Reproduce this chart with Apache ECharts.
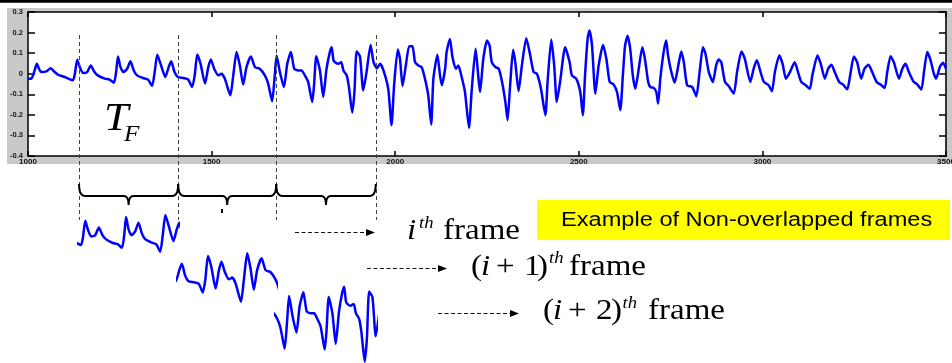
<!DOCTYPE html>
<html>
<head>
<meta charset="utf-8">
<script src="https://cdn.jsdelivr.net/npm/echarts@6/dist/echarts.min.js"></script>
<style>
  html, body { margin: 0; padding: 0; background: #fff; }
  #chart { width: 952px; height: 363px; }
</style>
</head>
<body>
<div id="chart"></div>
<script>
// Speech waveform: sample index and amplitude
const sampleIdx = [
  1000,1009,1018,1024,1030,1036,1050,1062,1071,1082,1100,1122,1127,1134,1141,1150,1161,1171,1180,1190,
  1209,1222,1234,1240,1245,1252,1260,1270,1279,1288,1297,1313,1327,1338,1345,1352,1361,1374,1383,1390,1399,1408,
  1423,1436,1447,1454,1461,1470,1482,1491,1498,1507,1518,1527,1536,1551,1559,1568,1577,1586,1595,1607,
  1618,1631,1645,1654,1665,1672,1677,1686,1697,1706,1716,1725,1736,1745,1754,1763,1774,1779,1785,1795,1804,1813,1822,1827,
  1832,1838,1845,1853,1859,1868,1874,1883,1889,1895,1904,1913,1922,1933,1941,1950,1959,1968,1981,1990,
  1997,2007,2013,2020,2029,2038,2047,2054,2063,2072,2081,2090,2098,2104,2115,2122,2127,2136,2140,2149,
  2156,2165,2172,2181,2190,2201,2208,2219,2226,2231,2240,
  2250,2257,2263,2273,2282,2291,2300,2306,2313,2321,2327,2336,2345,2357,2366,2377,2386,2397,2409,2415,
  2425,2433,2440,2449,2463,2475,2481,2493,2504,2511,2517,2524,2529,2536,2545,2554,2566,2575,2584,2595,
  2604,2613,2620,2626,2633,2640,2647,2654,
  2662,2673,2680,2689,2695,2704,2711,2716,2722,2731,2738,2743,2752,2761,2771,2779,2786,2795,2809,2820,
  2829,2838,2845,2854,2865,2874,2881,2888,2898,2908,2922,2931,2943,2952,2967,2976,2985,2995,3004,3017,
  3026,3034,3046,3055,3064,
  3075,3088,3097,3106,3118,3129,3136,3150,3159,3170,3179,3188,3197,3209,3220,3231,3239,3249,3258,3269,
  3278,3289,3299,3311,3322,3333,3340,3349,3358,3372,3381,3390,3399,3411,3422,3433,3440,3449,3458,3467,
  3473,3483,3492,3500
];
const amplitude = [
  -0.024,-0.024,0.016,0.048,0.024,0.008,0.011,0.027,0.011,-0.005,-0.016,-0.032,-0.008,0.068,0.032,0.003,0.008,0.040,0.011,-0.008,
  -0.024,-0.029,-0.044,0.008,0.084,0.032,0.008,0.024,0.060,0.016,-0.008,-0.021,-0.029,-0.060,0.008,0.092,0.048,-0.016,0.032,0.060,0.008,-0.016,
  -0.021,-0.027,-0.065,-0.008,0.094,0.048,-0.048,0.032,0.069,0.024,-0.008,0.000,-0.024,-0.105,-0.008,0.105,0.040,-0.053,0.032,0.084,
  0.032,0.024,-0.008,-0.048,-0.134,-0.008,0.089,0.008,-0.065,0.048,0.105,0.024,0.016,0.016,-0.008,-0.040,-0.137,-0.056,0.085,0.016,-0.113,0.024,0.105,0.129,
  0.065,0.053,0.048,0.056,0.016,-0.008,-0.065,-0.189,-0.089,0.108,0.085,-0.081,0.008,0.140,0.056,0.027,0.048,0.016,-0.073,-0.250,
  -0.056,0.118,0.073,-0.060,0.040,0.134,0.134,0.056,0.040,0.032,-0.024,-0.105,-0.247,-0.024,0.092,-0.008,-0.056,0.024,0.105,0.169,
  0.081,0.024,0.040,-0.016,-0.089,-0.263,-0.089,0.121,-0.008,-0.089,0.073,
  0.161,0.137,0.056,0.032,0.024,-0.040,-0.137,-0.226,-0.056,0.116,0.056,-0.085,0.040,0.173,0.105,0.008,0.000,-0.073,-0.202,-0.040,
  0.166,0.040,-0.137,-0.040,0.129,0.056,-0.008,-0.024,-0.089,-0.202,-0.008,0.169,0.210,0.137,-0.097,0.040,0.140,0.073,-0.040,-0.053,
  -0.089,-0.177,-0.008,0.137,0.185,0.121,-0.008,-0.073,
  0.008,0.129,0.073,-0.040,-0.065,-0.069,-0.089,-0.145,-0.024,0.105,0.161,0.089,0.008,-0.044,0.040,0.108,0.056,-0.056,-0.065,-0.110,
  0.008,0.129,0.097,0.008,-0.040,0.040,0.069,0.056,-0.040,-0.060,-0.097,0.008,0.108,0.073,-0.040,0.024,0.065,0.008,-0.040,-0.056,
  -0.085,0.008,0.089,0.048,-0.024,
  0.008,0.056,0.008,-0.040,-0.056,-0.073,-0.008,0.089,0.048,-0.024,0.024,0.044,0.008,-0.040,-0.053,-0.076,-0.008,0.084,0.056,-0.024,
  0.024,0.044,0.008,-0.040,-0.053,-0.069,0.008,0.085,0.056,-0.024,0.024,0.048,0.008,-0.037,-0.053,-0.077,0.008,0.105,0.065,0.000,
  -0.024,0.032,0.053,0.024
];

// Frame boundaries on the sample axis (dashed markers)
const frameBounds = [1139, 1409, 1676, 1947];
// First sample shown in each extracted frame below the waveform
const frameStarts = [1117, 1380, 1642];
// Amplitude range of each extracted frame panel
const frameYMin = [-0.10, -0.15, -0.20];
const frameYMax = [0.12, 0.15, 0.15];

// Axis ranges
const xRange = [1000, 3500, 500];
const yRange = [-0.4, 0.3, 0.1];

const waveData = sampleIdx.map((s, i) => [s, amplitude[i]]);

const chart = echarts.init(document.getElementById('chart'), null, { renderer: 'canvas' });

const BLUE = '#0000ff';
const LINE_W = 2.5;
const SMOOTH = 0.2;
const axisLabelFont = { fontSize: 8, fontWeight: 'bold', color: '#111', fontFamily: 'Liberation Sans' };

function mainAxes() {
  const xBase = {
    gridIndex: 0, type: 'value', min: xRange[0], max: xRange[1], interval: xRange[2],
    splitLine: { show: false },
    axisLine: { show: true, onZero: false, lineStyle: { color: '#000', width: 1.5 } },
    axisTick: { show: true, inside: true, length: 5, lineStyle: { color: '#000', width: 1.5 } }
  };
  const yBase = {
    gridIndex: 0, type: 'value', min: yRange[0], max: yRange[1], interval: yRange[2],
    splitLine: { show: false },
    axisLine: { show: true, onZero: false, lineStyle: { color: '#000', width: 1.5 } },
    axisTick: { show: true, inside: true, length: 7, lineStyle: { color: '#000', width: 1.5 } }
  };
  return {
    xAxis: [
      Object.assign({}, xBase, {
        position: 'bottom',
        axisLabel: Object.assign({ margin: 2, formatter: v => String(v) }, axisLabelFont)
      }),
      Object.assign({}, xBase, { position: 'top', axisLabel: { show: false } })
    ],
    yAxis: [
      Object.assign({}, yBase, {
        position: 'left',
        axisLabel: Object.assign({ margin: 5, formatter: v => String(+v.toFixed(1)) }, axisLabelFont, { fontSize: 7.5 })
      }),
      Object.assign({}, yBase, {
        position: 'right', axisLabel: { show: false },
        axisLine: { show: true, onZero: false, lineStyle: { color: '#333', width: 2 } }
      })
    ]
  };
}

const axes = mainAxes();
const baseOption = {
  animation: false,
  backgroundColor: '#fff',
  grid: [{ left: 28, top: 12, width: 918, height: 144, show: true, backgroundColor: '#fff',
    borderWidth: 0, containLabel: false, outerBoundsMode: 'none' }],
  xAxis: axes.xAxis,
  yAxis: axes.yAxis,
  series: [{
    type: 'line', xAxisIndex: 0, yAxisIndex: 0, data: waveData,
    showSymbol: false, clip: true, z: 3, smooth: SMOOTH,
    lineStyle: { color: BLUE, width: LINE_W }
  }]
};
chart.setOption(baseOption);

// Pixel position of a sample index on the main axis
const px = v => chart.convertToPixel({ xAxisIndex: 0 }, v);

// Extracted frame panels, one grid each
const framePanelTop = [208.3, 243.0, 281.7];
const framePanelHeight = [53.0, 69.0, 82.6];
const grids = [baseOption.grid[0]];
const xAxes = axes.xAxis.slice();
const yAxes = axes.yAxis.slice();
const series = baseOption.series.slice();
for (let k = 0; k < 3; k++) {
  const left = px(frameBounds[k]);
  const right = px(frameBounds[k + 1]);
  grids.push({ left: left, top: framePanelTop[k], width: right - left, height: framePanelHeight[k],
    show: false, outerBoundsMode: 'none' });
  const gi = grids.length - 1;
  xAxes.push({ gridIndex: gi, type: 'value', show: false, min: frameStarts[k],
    max: frameStarts[k] + (frameBounds[k + 1] - frameBounds[k]) });
  yAxes.push({ gridIndex: gi, type: 'value', show: false, min: frameYMin[k], max: frameYMax[k] });
  series.push({
    type: 'line', xAxisIndex: xAxes.length - 1, yAxisIndex: yAxes.length - 1, data: waveData,
    showSymbol: false, clip: true, z: 3, smooth: SMOOTH, lineStyle: { color: BLUE, width: LINE_W }
  });
}

// Annotation helpers
function quad(p0, p1, p2, n) {
  const pts = [];
  for (let i = 0; i <= n; i++) {
    const t = i / n, u = 1 - t;
    pts.push([u * u * p0[0] + 2 * u * t * p1[0] + t * t * p2[0], u * u * p0[1] + 2 * u * t * p1[1] + t * t * p2[1]]);
  }
  return pts;
}
function bracePoints(a, b) {
  const m = (a + b) / 2, y0 = 184, y1 = 196, y2 = 205, r = 6, rm = 5;
  return [].concat(
    quad([a, y0], [a, y1], [a + r, y1], 8),
    quad([m - rm, y1], [m, y1], [m, y2], 6),
    quad([m, y2], [m, y1], [m + rm, y1], 6),
    quad([b - r, y1], [b, y1], [b, y0], 8)
  );
}
function txt(s, x, base, size, opt) {
  opt = opt || {};
  const family = opt.family || '"Liberation Serif", "Times New Roman", serif';
  return {
    type: 'text', x: x, y: base - 0.34 * size, scaleX: opt.sx || 1, z: 20,
    style: {
      text: s, x: 0, y: 0,
      font: (opt.italic ? 'italic ' : '') + size + 'px ' + family,
      fill: '#000', align: 'left', verticalAlign: 'middle',
      textAlign: 'left', textVerticalAlign: 'middle'
    }
  };
}
function arrow(x1, tip, y) {
  return [
    { type: 'line', z: 20, shape: { x1: x1, y1: y, x2: tip - 8, y2: y },
      style: { stroke: '#111', lineWidth: 1, lineDash: [4, 2.5] } },
    { type: 'polygon', z: 20, shape: { points: [[tip - 9, y - 3.5], [tip, y], [tip - 9, y + 3.5]] },
      style: { fill: '#000' } }
  ];
}

const graphics = [
  // frame of the figure
  { type: 'rect', z: -10, shape: { x: 0, y: 0, width: 952, height: 2.7 }, style: { fill: '#000' } },
  { type: 'rect', z: -10, shape: { x: 7, y: 8, width: 945, height: 156 }, style: { fill: '#c9c9c9' } }
];
frameBounds.forEach(b => {
  const x = Math.round(px(b)) + 0.5;
  graphics.push({ type: 'line', z: 10, shape: { x1: x, y1: 35, x2: x, y2: 220 },
    style: { stroke: '#444', lineWidth: 1, lineDash: [4, 3] } });
});
for (let k = 0; k < 3; k++) {
  graphics.push({ type: 'polyline', z: 15, shape: { points: bracePoints(px(frameBounds[k]), px(frameBounds[k + 1])) },
    style: { stroke: '#000', lineWidth: 2, fill: null } });
}
graphics.push({ type: 'rect', z: 15, shape: { x: 221, y: 209, width: 2, height: 4 }, style: { fill: '#000' } });

// frame-length symbol
graphics.push(txt('T', 104, 133, 40, { italic: true, sx: 1.1 }));
graphics.push(txt('F', 124, 143, 23, { italic: true, sx: 1.1 }));

// arrows
graphics.push(...arrow(295, 375, 232.5));
graphics.push(...arrow(367, 447, 268.5));
graphics.push(...arrow(438, 519, 313.5));

// frame captions
graphics.push(txt('i', 407, 241.7, 30, { italic: true, sx: 1.1 }));
graphics.push(txt('th', 419, 229, 17, { italic: true, sx: 1.1 }));
graphics.push(txt('frame', 443, 241.7, 30, { sx: 1.1 }));

graphics.push(txt('(', 471, 277.3, 30, { sx: 1.1 }));
graphics.push(txt('i', 481, 277.3, 30, { italic: true, sx: 1.1 }));
graphics.push(txt('+', 496, 277.3, 30, { sx: 1.1 }));
graphics.push(txt('1', 524, 277.3, 30, { sx: 1.1 }));
graphics.push(txt(')', 537, 277.3, 30, { sx: 1.1 }));
graphics.push(txt('th', 549, 264.6, 17, { italic: true, sx: 1.1 }));
graphics.push(txt('frame', 569, 277.3, 30, { sx: 1.1 }));

graphics.push(txt('(', 543, 321.7, 30, { sx: 1.1 }));
graphics.push(txt('i', 553, 321.7, 30, { italic: true, sx: 1.1 }));
graphics.push(txt('+', 568, 321.7, 30, { sx: 1.1 }));
graphics.push(txt('2', 596, 321.7, 30, { sx: 1.1 }));
graphics.push(txt(')', 611, 321.7, 30, { sx: 1.1 }));
graphics.push(txt('th', 622.5, 309, 17, { italic: true, sx: 1.1 }));
graphics.push(txt('frame', 648, 321.7, 30, { sx: 1.1 }));

// highlighted note
graphics.push({ type: 'rect', z: 18, shape: { x: 537, y: 200, width: 413, height: 40 }, style: { fill: '#ffff00' } });
graphics.push(txt('Example of Non-overlapped frames', 561, 227.7, 20,
  { family: '"Liberation Sans", Arial, sans-serif', sx: 1.18 }));

chart.setOption({
  grid: grids,
  xAxis: xAxes,
  yAxis: yAxes,
  series: series,
  graphic: { elements: graphics }
});
</script>
</body>
</html>
